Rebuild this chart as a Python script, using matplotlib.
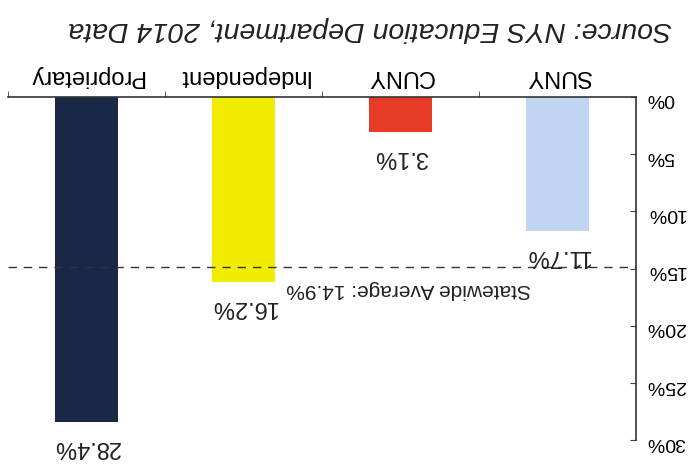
import matplotlib.pyplot as plt

categories = ["SUNY", "CUNY", "Independent", "Proprietary"]
values = [11.7, 3.1, 16.2, 28.4]
colors = ["#bfd5f2", "#e63b25", "#f2ec00", "#1b2747"]
statewide_avg = 14.9
y_ticks = [0, 5, 10, 15, 20, 25, 30]
source = "Source: NYS Education Department, 2014 Data"

plt.rcParams['font.family'] = ['Liberation Sans', 'DejaVu Sans']

fig = plt.figure(figsize=(6.98, 4.70), dpi=100)
ax = fig.add_axes([0.0115, 0.063, 0.9, 0.731])

x = list(range(len(categories)))
ax.bar(x, values, width=0.4, color=colors)

# picture is upside down: flip both axes, rotate every text
ax.set_xlim(3.5, -0.5)
ax.set_ylim(30, 0)

for xi, v in zip(x, values):
    ax.annotate(f"{v}%", (xi, v), xytext=(0, -18), textcoords='offset points',
                ha='center', va='center', rotation=180, fontsize=17, color='#222222')

ax.axhline(statewide_avg, color='#333333', linestyle=(0, (6, 5)), linewidth=1)
ax.annotate(f"Statewide Average: {statewide_avg}%", (0.95, statewide_avg),
            xytext=(0, -16), textcoords='offset points',
            ha='center', va='center', rotation=180, fontsize=15, color='#222222')

ax.yaxis.tick_right()
ax.set_yticks(y_ticks)
ax.set_yticklabels([f"{t}%" for t in y_ticks], rotation=180, fontsize=14)
ax.tick_params(axis='y', direction='in', length=4, color='#444444', pad=7)

ax.xaxis.tick_top()
ax.set_xticks(x)
ax.set_xticklabels(categories, rotation=180, fontsize=17)
ax.set_xticks([0.5, 1.5, 2.5, 3.5], minor=True)
ax.tick_params(axis='x', which='major', length=0, pad=7)
ax.tick_params(axis='x', which='minor', length=4, color='#444444')

for s in ['left', 'bottom']:
    ax.spines[s].set_visible(False)
for s in ['top', 'right']:
    ax.spines[s].set_color('#333333')
    ax.spines[s].set_linewidth(1.2)

fig.text(0.53, 0.938, source, ha='center', va='center', rotation=180,
         fontsize=20.5, style='italic', color='#222222')

plt.savefig("out.png")
plt.close()
